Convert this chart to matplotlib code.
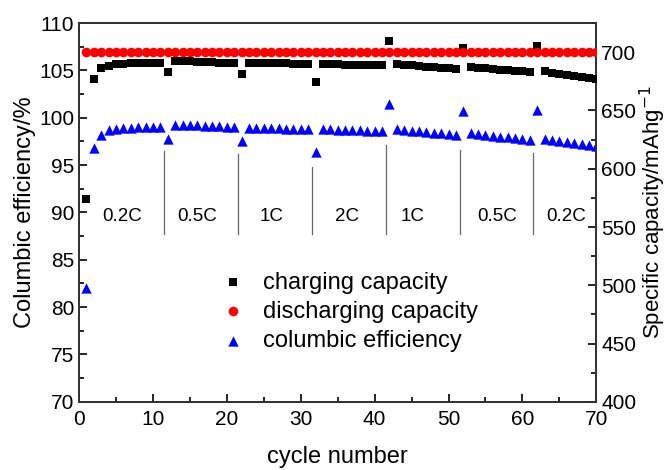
import matplotlib
matplotlib.use("Agg")
import matplotlib.pyplot as plt

plt.rcParams['font.family'] = ['Liberation Sans', 'DejaVu Sans']

# cycle numbers
cycles = list(range(1, 71))

# charging capacity, mAh/g (right axis)
charge_cap = [
    574, 677, 686, 688.5, 689.5, 690, 690.5, 690.8, 691, 691, 691,
    683, 692, 692, 692, 691.8, 691.5, 691.3, 691, 690.8, 690.6,
    681.5, 691, 690.8, 690.6, 690.5, 690.4, 690.3, 690.2, 690, 690,
    674, 690, 689.8, 689.6, 689.4, 689.2, 689, 688.8, 688.6, 688.6,
    710, 690, 689.4, 688.8, 688.2, 687.6, 687, 686.6, 686.2, 685.8,
    704, 687, 686.5, 686, 685.5, 685, 684.5, 684, 683.5, 683,
    705, 683.5, 682.5, 681.5, 680.5, 679.5, 678.5, 677.5, 677,
]

# discharging capacity, mAh/g (right axis)
discharge_cap = [700] * 70

# columbic efficiency, % (left axis)
efficiency = [
    82.0, 96.8, 98.2, 98.7, 98.85, 98.9, 98.95, 99.0, 99.0, 99.0, 99.0,
    97.75, 99.2, 99.2, 99.2, 99.2, 99.15, 99.1, 99.1, 99.05, 99.0,
    97.5, 98.95, 98.95, 98.9, 98.9, 98.9, 98.85, 98.85, 98.8, 98.8,
    96.4, 98.8, 98.8, 98.75, 98.75, 98.7, 98.7, 98.65, 98.6, 98.6,
    101.5, 98.8, 98.7, 98.6, 98.55, 98.5, 98.4, 98.35, 98.3, 98.2,
    100.7, 98.4, 98.3, 98.2, 98.1, 98.0, 97.95, 97.85, 97.8, 97.7,
    100.8, 97.75, 97.6, 97.5, 97.4, 97.3, 97.2, 97.1, 97.0,
]

# rate steps: separators and labels
sep_x = [11.5, 21.5, 31.5, 41.5, 51.5, 61.5]
sep_top = [96.5, 96.2, 94.8, 97.1, 96.6, 96.3]
rate_labels = ['0.2C', '0.5C', '1C', '2C', '1C', '0.5C', '0.2C']
rate_x = [5.8, 16.0, 26.1, 36.2, 45.2, 56.6, 65.9]

fig = plt.figure(figsize=(6.7, 4.7), dpi=100)
ax = fig.add_axes([0.118, 0.145, 0.772, 0.806])
ax2 = ax.twinx()

eff = ax.scatter(cycles, efficiency, marker='^', s=55, color='#0000ff',
                 linewidths=0, zorder=3, label='columbic efficiency')
chg = ax2.scatter(cycles, charge_cap, marker='s', s=30, color='black',
                  linewidths=0, zorder=3, label='charging capacity')
dis = ax2.scatter(cycles, discharge_cap, marker='o', s=48, color='#ff0000',
                  linewidths=0, zorder=4, label='discharging capacity')

for xv, top in zip(sep_x, sep_top):
    ax.plot([xv, xv], [87.7, top], color='#666666', lw=0.9)
for xv, lab in zip(rate_x, rate_labels):
    ax.text(xv, 89.6, lab, ha='center', va='center', fontsize=13.5)

ax.set_xlim(0, 70)
ax.set_ylim(70, 110)
ax2.set_ylim(400, 725)
ax.set_xticks(range(0, 71, 10))
ax.set_xticks(range(0, 71, 5), minor=True)
ax.set_yticks(range(70, 111, 5))
ax.set_yticks([70 + 2.5 * i for i in range(17)], minor=True)
ax2.set_yticks(range(400, 701, 50))
ax2.set_yticks(range(400, 726, 25), minor=True)

for a in (ax, ax2):
    a.tick_params(which='both', direction='in', labelsize=15, width=1.2)
    a.tick_params(which='major', length=6)
    a.tick_params(which='minor', length=3.5)
    for sp in a.spines.values():
        sp.set_linewidth(1.3)
        sp.set_color('#333333')
ax.tick_params(axis='x', pad=6)

ax.set_xlabel('cycle number', fontsize=17, labelpad=12)
ax.set_ylabel('Columbic efficiency/%', fontsize=17, labelpad=2)
ax2.set_ylabel('Specific capacity/mAhg$^{-1}$', fontsize=16, labelpad=1)

ax2.legend(handles=[chg, dis, eff], loc='upper left',
           bbox_to_anchor=(0.21, 0.40), frameon=False, fontsize=17,
           handletextpad=0.3, labelspacing=0.3, markerscale=1.0)

fig.savefig('out.png', dpi=100)
